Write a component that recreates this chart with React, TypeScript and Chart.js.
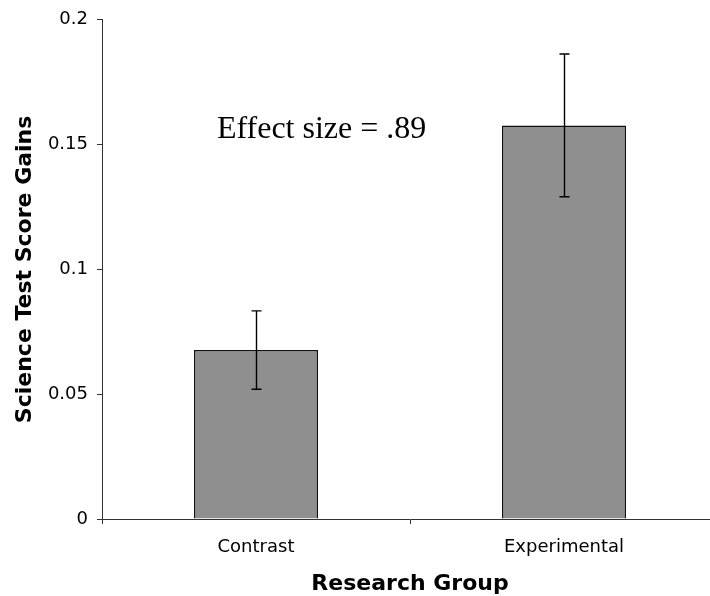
import React, { useEffect, useRef } from "react";
import { Chart, registerables } from "chart.js";

Chart.register(...registerables);

const categories = ["Contrast", "Experimental"];
const meanGains = [0.0677, 0.1577];
const errorMargins = [0.0157, 0.0286];
const yTicks = [0, 0.05, 0.1, 0.15, 0.2];
const yTickLabels = ["0", "0.05", "0.1", "0.15", "0.2"];
const annotationText = "Effect size = .89";
const annotationValue = 0.1528;

const errorBarPlugin = {
  id: "errorBars",
  afterDatasetsDraw(chart: any) {
    const ctx = chart.ctx;
    const meta = chart.getDatasetMeta(0);
    const y = chart.scales.y;
    ctx.save();
    ctx.strokeStyle = "#000";
    ctx.lineWidth = 1.4;
    meta.data.forEach((bar: any, i: number) => {
      const x = Math.round(bar.x) + 0.5;
      const top = y.getPixelForValue(meanGains[i] + errorMargins[i]);
      const bot = y.getPixelForValue(meanGains[i] - errorMargins[i]);
      ctx.beginPath();
      ctx.moveTo(x, top);
      ctx.lineTo(x, bot);
      ctx.moveTo(x - 5, top);
      ctx.lineTo(x + 5, top);
      ctx.moveTo(x - 5, bot);
      ctx.lineTo(x + 5, bot);
      ctx.stroke();
    });
    ctx.restore();
  },
};

const annotationPlugin = {
  id: "effectLabel",
  afterDraw(chart: any) {
    const ctx = chart.ctx;
    const xs = chart.scales.x;
    const ys = chart.scales.y;
    const c0 = xs.getPixelForValue(0);
    const c1 = xs.getPixelForValue(1);
    const px = c0 + 0.213 * (c1 - c0);
    const py = ys.getPixelForValue(annotationValue);
    ctx.save();
    ctx.fillStyle = "#000";
    ctx.font = '32px "Liberation Serif", "Times New Roman", serif';
    ctx.textAlign = "center";
    ctx.textBaseline = "alphabetic";
    ctx.fillText(annotationText, px, py);
    ctx.restore();
  },
};

export default function App() {
  const canvasRef = useRef<HTMLCanvasElement | null>(null);

  useEffect(() => {
    document.body.style.margin = "0";
    const canvas = canvasRef.current;
    if (!canvas) return;
    const chart = new Chart(canvas, {
      type: "bar",
      data: {
        labels: categories,
        datasets: [
          {
            data: meanGains,
            backgroundColor: "#8f8f8f",
            borderColor: "#111",
            borderWidth: 1.6,
            barPercentage: 0.403,
            categoryPercentage: 1,
          },
        ],
      },
      options: {
        responsive: false,
        animation: false,
        events: [],
        layout: { padding: { top: 19, right: 2, bottom: 0, left: 0 } },
        plugins: {
          legend: { display: false },
          tooltip: { enabled: false },
        },
        scales: {
          x: {
            afterFit(scale: any) {
              scale.height = 77;
            },
            grid: {
              display: true,
              drawOnChartArea: false,
              drawTicks: true,
              tickLength: 5,
              color: "#333",
              offset: true,
            },
            border: { display: true, color: "#333", width: 1 },
            ticks: {
              color: "#000",
              font: { family: '"DejaVu Sans", Verdana, sans-serif', size: 18 },
              padding: 13,
            },
            title: {
              display: true,
              text: "Research Group",
              color: "#000",
              font: { family: '"DejaVu Sans", Verdana, sans-serif', size: 22, weight: "bold" },
              padding: { top: 0, bottom: -1 },
            },
          },
          y: {
            min: 0,
            max: 0.2,
            afterFit(scale: any) {
              scale.width = 102;
            },
            afterBuildTicks(scale: any) {
              scale.ticks = yTicks.map((v) => ({ value: v }));
            },
            grid: {
              display: true,
              drawOnChartArea: false,
              drawTicks: true,
              tickLength: 5,
              color: "#333",
            },
            border: { display: true, color: "#333", width: 1 },
            ticks: {
              color: "#000",
              font: { family: '"DejaVu Sans", Verdana, sans-serif', size: 18 },
              padding: 9,
              callback(value: any) {
                const i = yTicks.indexOf(Number(value));
                return i >= 0 ? yTickLabels[i] : "";
              },
            },
            title: {
              display: true,
              text: "Science Test Score Gains",
              color: "#000",
              font: { family: '"DejaVu Sans", Verdana, sans-serif', size: 22, weight: "bold" },
              padding: { top: 12, bottom: 0 },
            },
          },
        },
      },
      plugins: [errorBarPlugin, annotationPlugin],
    } as any);
    return () => chart.destroy();
  }, []);

  return (
    <div
      style={{
        position: "fixed",
        left: 0,
        top: 0,
        width: 710,
        height: 596,
        overflow: "hidden",
        background: "#fff",
      }}
    >
      <canvas ref={canvasRef} width={720} height={596} style={{ width: 720, height: 596, display: "block" }} />
    </div>
  );
}
